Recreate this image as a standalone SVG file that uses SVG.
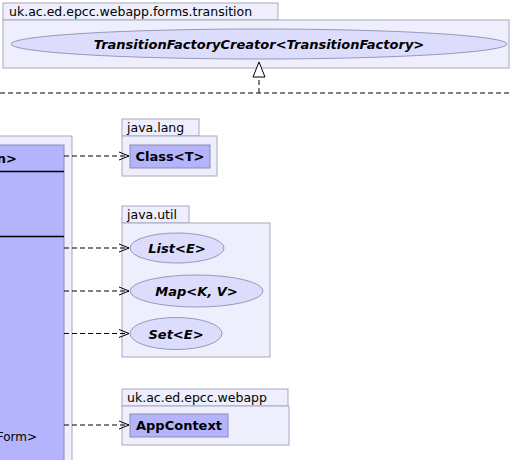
<svg xmlns="http://www.w3.org/2000/svg" width="510" height="460" viewBox="0 0 510 460">
<style>
.pkg{fill:#eeeefc;stroke:#a8a8c0;stroke-width:1}
.ell{fill:#dcdcfc;stroke:#9898b8;stroke-width:1}
.cls{fill:#b4b4fc;stroke:#8c8cb0;stroke-width:1}
.tab{font-family:"DejaVu Sans",sans-serif;font-size:12.5px;fill:#000}
.bi{font-family:"DejaVu Sans",sans-serif;font-size:13px;font-weight:bold;font-style:italic;fill:#000;text-anchor:middle}
.b{font-family:"DejaVu Sans",sans-serif;font-size:13px;font-weight:bold;fill:#000;text-anchor:middle}
.dep{fill:none;stroke:#000;stroke-width:1;stroke-dasharray:5,3}
.head{fill:none;stroke:#000;stroke-width:1}
</style>
<rect width="510" height="460" fill="#ffffff"/>
<g id="pkg-transition">
<rect class="pkg" x="3" y="3" width="275" height="17"/>
<rect class="pkg" x="3" y="20" width="506" height="48"/>
<text class="tab" x="9" y="16">uk.ac.ed.epcc.webapp.forms.transition</text>
</g>
<g id="TransitionFactoryCreator">
<ellipse class="ell" cx="259" cy="44" rx="248" ry="15"/>
<text class="bi" x="259" y="49">TransitionFactoryCreator&lt;TransitionFactory&gt;</text>
</g>
<g id="pkg-left">
<rect class="pkg" x="-10" y="136" width="82" height="340"/>
</g>
<g id="main-class">
<rect class="cls" x="-10" y="145" width="74" height="330"/>
<line x1="-10" y1="171.5" x2="64" y2="171.5" stroke="#000" stroke-width="1.5"/>
<line x1="-10" y1="236.5" x2="64" y2="236.5" stroke="#000" stroke-width="1.5"/>
<text class="b" x="17" y="163" style="text-anchor:end">n&gt;</text>
<text x="37" y="441" style="font-family:'DejaVu Sans',sans-serif;font-size:12px;text-anchor:end">Form&gt;</text>
</g>
<g id="pkg-java-lang">
<rect class="pkg" x="122" y="119" width="77" height="17"/>
<rect class="pkg" x="122" y="136" width="95" height="40"/>
<text class="tab" x="127" y="132">java.lang</text>
</g>
<g id="Class">
<rect class="cls" x="130" y="145" width="80" height="23"/>
<text class="b" x="170" y="161">Class&lt;T&gt;</text>
</g>
<g id="pkg-java-util">
<rect class="pkg" x="122" y="206" width="67" height="17"/>
<rect class="pkg" x="122" y="223" width="148" height="134"/>
<text class="tab" x="127" y="219">java.util</text>
</g>
<g id="List">
<ellipse class="ell" cx="177" cy="248" rx="47" ry="15"/>
<text class="bi" x="177" y="253">List&lt;E&gt;</text>
</g>
<g id="Map">
<ellipse class="ell" cx="196.5" cy="291" rx="66.5" ry="16"/>
<text class="bi" x="196.5" y="296">Map&lt;K, V&gt;</text>
</g>
<g id="Set">
<ellipse class="ell" cx="176" cy="333.5" rx="46" ry="16"/>
<text class="bi" x="176" y="338.5">Set&lt;E&gt;</text>
</g>
<g id="pkg-webapp">
<rect class="pkg" x="122" y="389" width="166" height="17"/>
<rect class="pkg" x="122" y="406" width="167" height="39"/>
<text class="tab" x="127" y="402">uk.ac.ed.epcc.webapp</text>
</g>
<g id="AppContext">
<rect class="cls" x="130" y="414" width="98" height="23"/>
<text class="b" x="179" y="430">AppContext</text>
</g>
<g id="connectors">
<line class="dep" x1="0" y1="93" x2="510" y2="93"/>
<line class="dep" x1="259" y1="93" x2="259" y2="77"/>
<polygon points="259,62 253,77 265,77" fill="#ffffff" stroke="#000" stroke-width="1"/>
<line class="dep" x1="64" y1="156" x2="129" y2="156"/>
<polyline class="head" points="119,152 129,156 119,160"/>
<line class="dep" x1="64" y1="248" x2="129" y2="248"/>
<polyline class="head" points="119,244 129,248 119,252"/>
<line class="dep" x1="64" y1="291" x2="129" y2="291"/>
<polyline class="head" points="119,287 129,291 119,295"/>
<line class="dep" x1="64" y1="333.5" x2="129" y2="333.5"/>
<polyline class="head" points="119,329.5 129,333.5 119,337.5"/>
<line class="dep" x1="64" y1="425" x2="129" y2="425"/>
<polyline class="head" points="119,421 129,425 119,429"/>
</g>
</svg>
